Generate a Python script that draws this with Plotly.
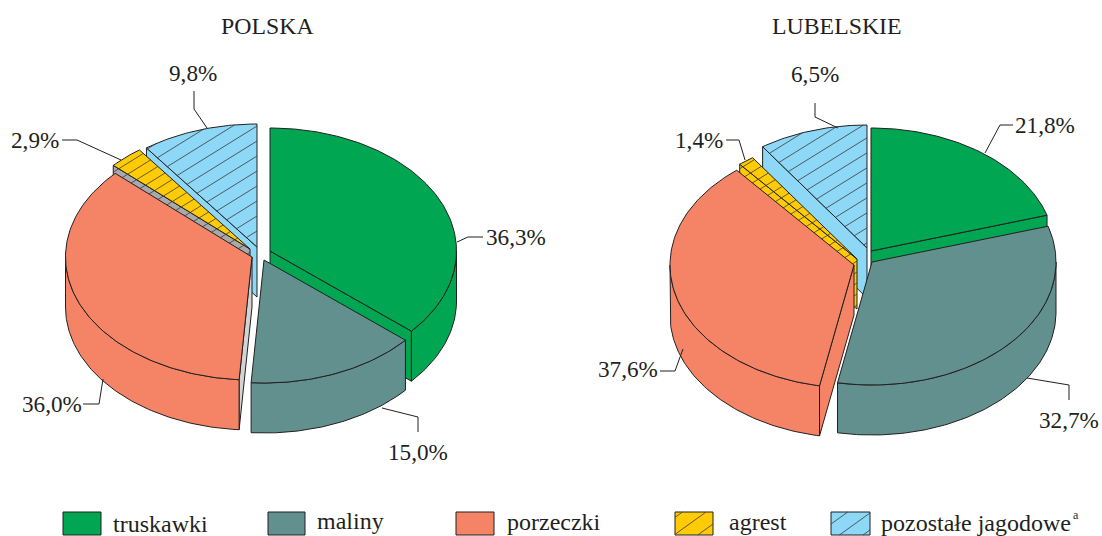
import numpy as np
import plotly.graph_objects as go

# ---- data -------------------------------------------------------------
categories = ["truskawki", "maliny", "porzeczki", "agrest", "pozostałe jagodowe"]
polska_labels = [36.3, 15.0, 36.0, 2.9, 9.8]
lubelskie_labels = [21.8, 32.7, 37.6, 1.4, 6.5]
# shares as actually drawn in the picture (the printed Lubelskie labels differ from the slices)
polska_drawn = [36.3, 14.8, 35.8, 3.0, 10.1]
lubelskie_drawn = [20.3, 32.7, 36.0, 1.4, 9.6]
titles = ["POLSKA", "LUBELSKIE"]

# ---- style / layout ---------------------------------------------------
COL = ["#00a651", "#62908e", "#f58466", "#ffcb05", "#8dd7f7"]
INK = "#231f20"
FONT = "Liberation Serif"
FS = 23.2
FS_TITLE = 23.8
FS_LEGEND = 24
H = 50
draw_order = [4, 3, 0, 2, 1]
HATCH = {3: 11, 4: 15}
SLOPE = 0.62

pies = [
    dict(rx=186.5, ry=123, drawn=polska_drawn,
         centers=[(270, 251), (264, 260), (252, 257), (250, 249), (257, 247)],
         side=[COL[0], COL[1], "#d1d3d4", "#a7a9ac", COL[4]]),
    dict(rx=184, ry=123, drawn=lubelskie_drawn,
         centers=[(871, 251), (872, 262), (854, 265), (857, 259), (867, 248)],
         side=[COL[0], COL[1], COL[2], COL[3], COL[4]]),
]

fig = go.Figure()


def poly(xs, ys, fill):
    xs, ys = list(xs), list(ys)
    fig.add_trace(go.Scatter(x=xs + xs[:1], y=ys + ys[:1], mode="lines", fill="toself",
                             fillcolor=fill, line=dict(color=INK, width=1), hoverinfo="skip"))


def hatch(xs, ys, spacing, slope=SLOPE, width=0.8):
    xs, ys = np.append(xs, xs[0]), np.append(ys, ys[0])
    cv = ys + slope * xs
    hx, hy = [], []
    k0, k1 = int(np.floor(cv.min() / spacing)), int(np.ceil(cv.max() / spacing))
    for k in range(k0, k1 + 1):
        c = k * spacing + 0.37
        pts = []
        for i in range(len(xs) - 1):
            a, b = cv[i] - c, cv[i + 1] - c
            if a * b < 0:
                f = a / (a - b)
                pts.append(xs[i] + f * (xs[i + 1] - xs[i]))
        pts.sort()
        for p, q in zip(pts[0::2], pts[1::2]):
            hx += [p, q, None]
            hy += [c - slope * p, c - slope * q, None]
    if hx:
        fig.add_trace(go.Scatter(x=hx, y=hy, mode="lines", hoverinfo="skip",
                                 line=dict(color="#3a3a3a", width=width)))


def arc(c, rx, ry, a0, a1, dy=0):
    n = max(2, int(abs(a1 - a0)) + 2)
    t = np.radians(np.linspace(a0, a1, n))
    return c[0] + rx * np.sin(t), c[1] - ry * np.cos(t) + dy


for pie in pies:
    edges = np.concatenate([[0], np.cumsum(pie["drawn"])]) * 3.6
    rx, ry = pie["rx"], pie["ry"]
    for i in draw_order:
        a0, a1 = edges[i], edges[i + 1]
        c = pie["centers"][i]
        side = pie["side"][i]
        hs = HATCH.get(i)
        # cut faces: only those turned towards the viewer
        faces = []
        if np.sin(np.radians(a1)) > 1e-6:
            faces.append(a1)
        if np.sin(np.radians(a0)) < -1e-6:
            faces.append(a0)
        for a in faces:
            ex, ey = arc(c, rx, ry, a, a)
            ex, ey = ex[0], ey[0]
            fx = np.array([c[0], ex, ex, c[0]], float)
            fy = np.array([c[1], ey, ey + H, c[1] + H], float)
            poly(fx, fy, side)
            if i == 3:
                hatch(fx, fy, hs)
        # outer rim
        r0, r1 = max(a0, 90), min(a1, 270)
        if r1 > r0:
            ax, ay = arc(c, rx, ry, r0, r1)
            bx, by = arc(c, rx, ry, r1, r0, H)
            poly(np.r_[ax, bx], np.r_[ay, by], COL[i])
        # top face
        ax, ay = arc(c, rx, ry, a0, a1)
        tx, ty = np.r_[c[0], ax], np.r_[c[1], ay]
        poly(tx, ty, COL[i])
        if hs:
            hatch(tx, ty, hs)

# ---- legend -----------------------------------------------------------
swatches = [(63, 101), (268, 305), (456, 494), (675, 713), (831, 870)]
text_x = [111, 315, 505, 727, 879]
text_y = [524, 521, 522, 522, 523]
for i, (x0, x1) in enumerate(swatches):
    sx = np.array([x0, x1, x1, x0], float)
    sy = np.array([512, 512, 535, 535], float)
    poly(sx, sy, COL[i])
    if i in HATCH:
        hatch(sx, sy, 17, slope=0.72)

annotations = []


def txt(x, y, s, anchor="center", size=FS):
    annotations.append(dict(x=x, y=y, text=s, showarrow=False, xanchor=anchor, yanchor="middle",
                            xref="x", yref="y",
                            font=dict(family=FONT, size=size, color=INK)))


for i, name in enumerate(categories):
    txt(text_x[i], text_y[i], name, "left", FS_LEGEND)
txt(1076, 515, "a", size=12)

txt(267, 26, titles[0], size=FS_TITLE)
txt(837, 26, titles[1], size=FS_TITLE)


def pct(v):
    return f"{v:.1f}".replace(".", ",") + "%"


label_pos = [
    [(516, 237), (418, 452), (52, 404), (35, 140), (193, 73)],
    [(1045, 125), (1069, 420), (628, 369), (699, 140), (815, 74)],
]
leaders = [
    [[(457, 242), (468, 237), (483, 237)],
     [(382, 408), (418, 417), (418, 432)],
     [(83, 404), (99, 404), (103, 379)],
     [(62, 140), (77, 140), (121, 160)],
     [(194, 91), (194, 109), (207, 128)]],
    [[(1013, 125), (1000, 125), (985, 153)],
     [(1027, 378), (1069, 385), (1069, 400)],
     [(660, 371), (675, 371), (683, 349)],
     [(726, 140), (739, 140), (745, 160)],
     [(815, 103), (815, 117), (838, 128)]],
]
for labels, pos, lead in zip([polska_labels, lubelskie_labels], label_pos, leaders):
    for v, p, l in zip(labels, pos, lead):
        txt(p[0], p[1], pct(v))
        fig.add_trace(go.Scatter(x=[q[0] for q in l], y=[q[1] for q in l], mode="lines",
                                 hoverinfo="skip", line=dict(color=INK, width=1)))

fig.update_layout(
    width=1102, height=536, margin=dict(l=0, r=0, t=0, b=0),
    paper_bgcolor="white", plot_bgcolor="white", showlegend=False,
    xaxis=dict(range=[0, 1102], visible=False, fixedrange=True),
    yaxis=dict(range=[536, 0], visible=False, fixedrange=True),
    annotations=annotations,
)
fig.write_html("out.html", config=dict(displayModeBar=False),
               post_script="document.body.style.margin='0';")
